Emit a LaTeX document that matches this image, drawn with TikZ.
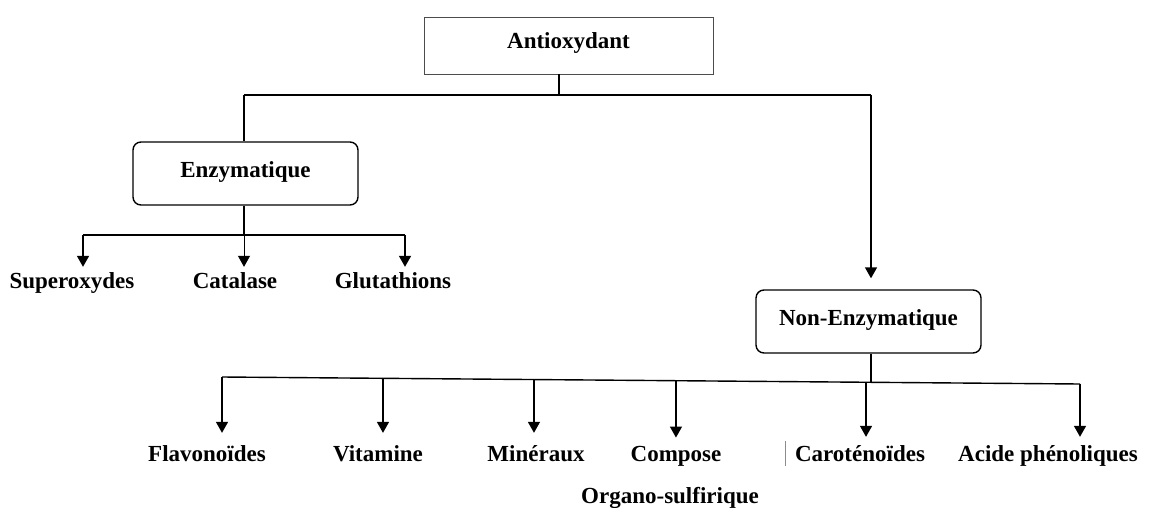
\documentclass[tikz,border=0pt]{standalone}
\usepackage{fontspec}
\setmainfont{Liberation Serif}
\usetikzlibrary{arrows.meta,calc}
\tikzset{
  lbl/.style={font=\fontsize{23}{27}\selectfont\bfseries, inner sep=2pt, anchor=base},
  rootbox/.style={draw=black!70, line width=0.9pt, minimum width=289pt, minimum height=57pt, inner sep=0pt,
     text height=14pt, text depth=7pt, font=\fontsize{23}{27}\selectfont\bfseries},
  catbox/.style={draw, line width=1.4pt, rounded corners=8pt, minimum width=225pt, minimum height=63pt, inner sep=0pt,
     text height=14pt, text depth=7pt, font=\fontsize{23}{27}\selectfont\bfseries},
  conn/.style={line width=1.4pt},
  arr/.style={line width=1.4pt, -{Triangle[width=12pt,length=11pt]}},
}
\begin{document}
\begin{tikzpicture}[x=1pt,y=-1pt]
\useasboundingbox (0,0) rectangle (1150,508);
% boxes
\node[rootbox] (anti) at (568.5,45.5) {Antioxydant};
\node[catbox] (enz) at (245.5,173.5) {Enzymatique};
\node[catbox] (nonenz) at (868.5,321.5) {Non-Enzymatique};
% enzymatic labels
\node[lbl] (sup) at (72,288) {Superoxydes};
\node[lbl] (cat) at (235,288) {Catalase};
\node[lbl] (glu) at (393,288) {Glutathions};
% non-enzymatic labels
\node[lbl] (fla) at (207,461) {Flavonoïdes};
\node[lbl] (vit) at (378,461) {Vitamine};
\node[lbl] (min) at (536,461) {Minéraux};
\node[lbl] (com) at (676,461) {Compose};
\node[lbl] (org) at (670,503) {Organo-sulfirique};
\node[lbl] (car) at (860,461) {Caroténoïdes};
\node[lbl] (aci) at (1048,461) {Acide phénoliques};
% top junctions
\coordinate (tj) at (559,95);
\coordinate (tL) at (244,95);
\coordinate (tR) at (871,95);
\draw[conn] (tj |- anti.south) -- (tj);
\draw[conn] (tL) -- (tR);
\draw[conn] (tL) -- (tL |- enz.north);
\draw[arr] (tR) -- ($(tR |- nonenz.north)+(0,-11)$);
% enzymatic branch
\coordinate (eb) at (244,235);
\coordinate (e1) at (83,235);
\coordinate (e3) at (405,235);
\draw[conn] (eb |- enz.south) -- (eb);
\draw[conn] (e1) -- (e3);
\draw[arr] (e1) -- ($(e1 |- sup.north)+(0,-3)$);
\draw[arr, line width=0.8pt] (eb) -- ($(eb |- cat.north)+(0,-3)$);
\draw[arr] (e3) -- ($(e3 |- glu.north)+(0,-3)$);
% non-enzymatic branch
\coordinate (bL) at (222,377);
\coordinate (bR) at (1080,384);
\coordinate (b2) at ($(bL)!0.1876!(bR)$);
\coordinate (b3) at ($(bL)!0.3636!(bR)$);
\coordinate (b4) at ($(bL)!0.5291!(bR)$);
\coordinate (b5) at ($(bL)!0.7506!(bR)$);
\coordinate (bs) at ($(bL)!0.7564!(bR)$);
\draw[conn] (nonenz.south -| bs) -- (bs);
\draw[conn] (bL) -- (bR);
\draw[arr] (bL) -- ($(bL |- fla.north)+(0,-10)$);
\draw[arr] (b2) -- ($(b2 |- vit.north)+(0,-10)$);
\draw[arr] (b3) -- ($(b3 |- min.north)+(0,-10)$);
\draw[arr] (b4) -- ($(b4 |- com.north)+(0,-6)$);
\draw[arr] (b5) -- ($(b5 |- car.north)+(0,-6)$);
\draw[arr] (bR) -- ($(bR |- aci.north)+(0,-6)$);
% small grey mark before Carotenoides
\draw[black!45, line width=1pt] (785,441) -- (785,466);
\end{tikzpicture}
\end{document}
